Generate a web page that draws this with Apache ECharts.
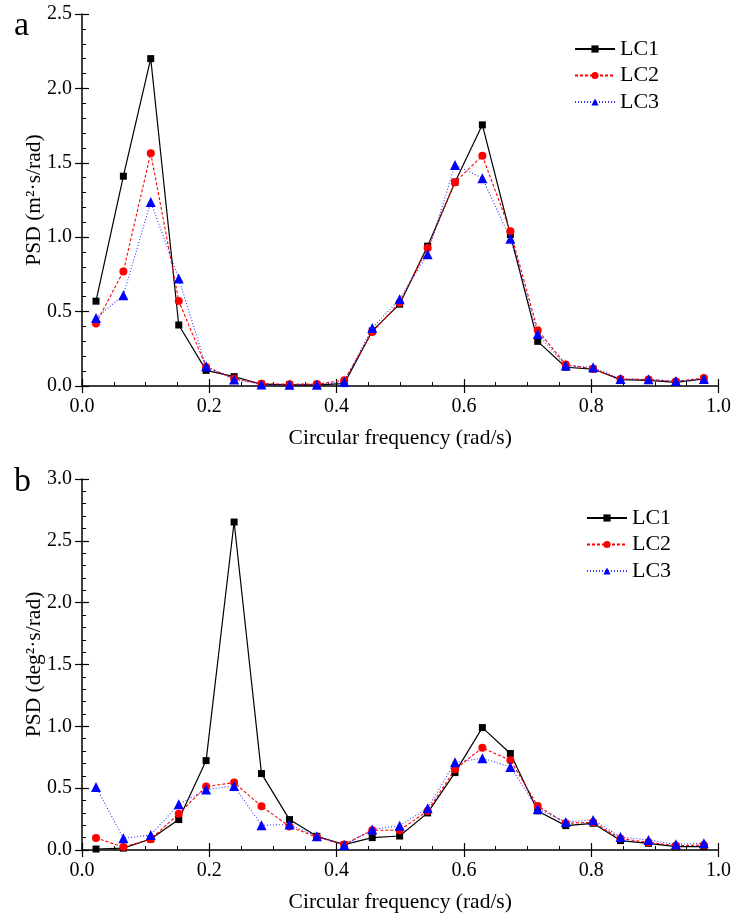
<!DOCTYPE html>
<html><head><meta charset="utf-8">
<script src="https://cdn.jsdelivr.net/npm/echarts@6/dist/echarts.min.js"></script>
<style>html,body{margin:0;padding:0;background:#fff}#c{width:734px;height:915px}</style>
</head><body><div id="c"></div>
<script>
// Circular frequency (rad/s)
const freq = [0.022,0.065,0.108,0.152,0.195,0.239,0.282,0.326,0.369,0.412,0.456,0.499,0.543,0.586,0.629,0.673,0.716,0.760,0.803,0.846,0.890,0.933,0.977];
// Panel a: PSD (m^2·s/rad)
const aLC1 = [0.57,1.41,2.20,0.41,0.105,0.063,0.012,0.008,0.008,0.016,0.37,0.55,0.94,1.37,1.755,1.018,0.30,0.126,0.114,0.043,0.038,0.025,0.047];
const aLC2 = [0.42,0.77,1.565,0.572,0.128,0.05,0.015,0.012,0.013,0.038,0.363,0.56,0.928,1.37,1.547,1.04,0.375,0.144,0.114,0.047,0.043,0.03,0.054];
const aLC3 = [0.457,0.61,1.237,0.722,0.132,0.043,0.01,0.008,0.008,0.027,0.39,0.583,0.886,1.486,1.397,0.99,0.35,0.137,0.126,0.047,0.045,0.034,0.047];
// Panel b: PSD (deg^2·s/rad)
const bLC1 = [0.008,0.015,0.089,0.246,0.723,2.652,0.618,0.246,0.111,0.044,0.10,0.113,0.30,0.626,0.99,0.78,0.316,0.197,0.216,0.076,0.054,0.027,0.027];
const bLC2 = [0.097,0.024,0.087,0.294,0.513,0.545,0.354,0.19,0.103,0.044,0.16,0.16,0.316,0.653,0.826,0.726,0.356,0.216,0.224,0.092,0.062,0.035,0.04];
const bLC3 = [0.51,0.095,0.121,0.37,0.489,0.518,0.2,0.206,0.111,0.041,0.165,0.197,0.337,0.71,0.742,0.672,0.332,0.227,0.243,0.105,0.081,0.046,0.054];
const seriesNames = ['LC1','LC2','LC3'];
const panelLabels = ['a','b'];
const xName = 'Circular frequency (rad/s)';
const yNames = ['PSD (m²·s/rad)','PSD (deg²·s/rad)'];
const yMax = [2.5, 3.0];

const FONT = "'Liberation Serif','Times New Roman',serif";
const chart = echarts.init(document.getElementById('c'), null, {renderer:'canvas'});
const fmt = v => v.toFixed(1);

function mainX(gi){
  return {type:'value', gridIndex:gi, min:0, max:1, interval:0.2, position:'bottom',
    name:xName, nameLocation:'middle', nameGap:41,
    nameTextStyle:{fontFamily:FONT, fontSize:21.5, color:'#000'},
    axisLine:{onZero:false, lineStyle:{color:'#000', width:1.5}},
    axisTick:{inside:true, length:7, lineStyle:{color:'#000', width:1.2}},
    minorTick:{show:true, splitNumber:4, length:4, lineStyle:{color:'#000', width:1}},
    axisLabel:{fontFamily:FONT, fontSize:20, color:'#000', margin:11, formatter:fmt},
    splitLine:{show:false}};
}
function outerX(gi){
  return {type:'value', gridIndex:gi, min:0, max:1, interval:0.2, position:'bottom',
    axisLine:{show:false}, axisTick:{inside:false, length:7, lineStyle:{color:'#000', width:1.2}},
    axisLabel:{show:false}, splitLine:{show:false}};
}
function mainY(gi){
  return {type:'value', gridIndex:gi, min:0, max:yMax[gi], interval:0.5, position:'left',
    name:yNames[gi], nameLocation:'middle', nameGap:37, nameMoveOverlap:false,
    nameTextStyle:{fontFamily:FONT, fontSize:21.5, color:'#000'},
    axisLine:{onZero:false, lineStyle:{color:'#000', width:1.5}},
    axisTick:{inside:true, length:7, lineStyle:{color:'#000', width:1.2}},
    minorTick:{show:true, splitNumber:5, length:4, lineStyle:{color:'#000', width:1}},
    axisLabel:{fontFamily:FONT, fontSize:20, color:'#000', margin:10, formatter:fmt},
    splitLine:{show:false}};
}
function outerY(gi){
  return {type:'value', gridIndex:gi, min:0, max:yMax[gi], interval:0.5, position:'left',
    axisLine:{show:false}, axisTick:{inside:false, length:7, lineStyle:{color:'#000', width:1.2}},
    axisLabel:{show:false}, splitLine:{show:false}};
}
const styles = [
  {color:'#000000', symbol:'rect', symbolSize:7, line:{type:'solid', width:1.2}},
  {color:'#ff0000', symbol:'circle', symbolSize:8, line:{type:[3,2], width:1.1}},
  {color:'#0000ff', symbol:'triangle', symbolSize:10, line:{type:[1,2], width:1.1, opacity:0.8}}
];
function mk(name, vals, ax, st){
  return {name:name, type:'line', xAxisIndex:ax, yAxisIndex:ax,
    data: freq.map((f,i)=>[f, vals[i]]),
    symbol:st.symbol, symbolSize:st.symbolSize, showAllSymbol:true,
    itemStyle:{color:st.color}, lineStyle:Object.assign({color:st.color}, st.line),
    animation:false, z:3};
}
const sets = [[aLC1,aLC2,aLC3],[bLC1,bLC2,bLC3]];
const series = [];
sets.forEach((s,gi)=>{ s.forEach((v,k)=>series.push(mk(seriesNames[k], v, gi*2, styles[k]))); });

const legendBase = {orient:'vertical', padding:0, itemWidth:40, itemHeight:9, itemGap:4.5,
  data:seriesNames, textStyle:{fontFamily:FONT, fontSize:22, color:'#000'}, selectedMode:false};

chart.setOption({
  backgroundColor:'#fff',
  animation:false,
  grid:[
    {left:82, width:638, top:14, height:372},
    {left:82, width:638, top:479, height:371}
  ],
  xAxis:[mainX(0), outerX(0), mainX(1), outerX(1)],
  yAxis:[mainY(0), outerY(0), mainY(1), outerY(1)],
  legend:[
    Object.assign({left:574, top:38}, legendBase),
    Object.assign({left:586, top:507}, legendBase)
  ],
  graphic:[
    {type:'text', left:14, top:9, style:{text:panelLabels[0], font:'34px '+FONT, fill:'#000'}},
    {type:'text', left:14, top:465, style:{text:panelLabels[1], font:'34px '+FONT, fill:'#000'}}
  ],
  series:series
});
</script></body></html>
